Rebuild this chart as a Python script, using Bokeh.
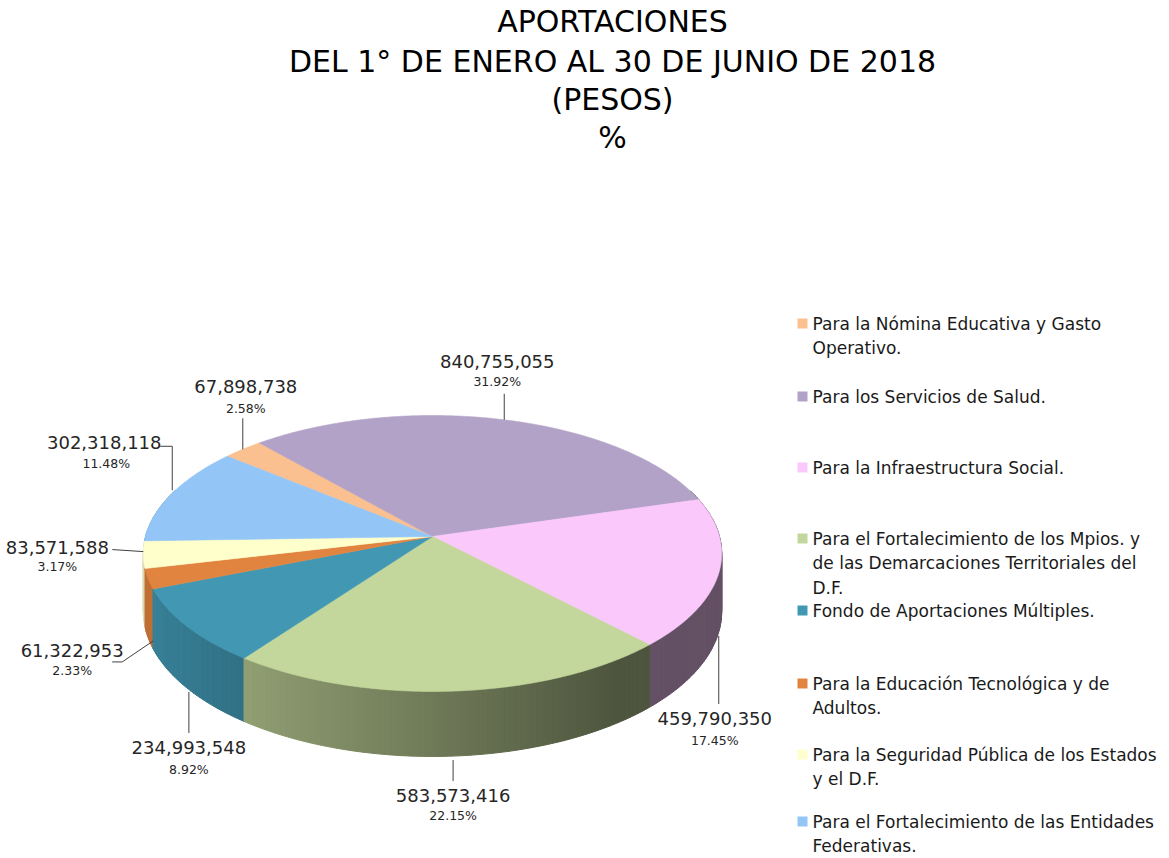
import numpy as np
from bokeh.plotting import figure
from bokeh.models import ColumnDataSource, Range1d
from bokeh.core.properties import value
from bokeh.embed import file_html
from bokeh.resources import INLINE

# ---------------- data ----------------
categories = [
    "Para la Nómina Educativa y Gasto\nOperativo.",
    "Para los Servicios de Salud.",
    "Para la Infraestructura Social.",
    "Para el Fortalecimiento de los Mpios. y\nde las Demarcaciones Territoriales del\nD.F.",
    "Fondo de Aportaciones Múltiples.",
    "Para la Educación Tecnológica y de\nAdultos.",
    "Para la Seguridad Pública de los Estados\ny el D.F.",
    "Para el Fortalecimiento de las Entidades\nFederativas.",
]
values = [67898738, 840755055, 459790350, 583573416, 234993548, 61322953, 83571588, 302318118]
colors = ["#FAC08F", "#B3A2C7", "#FAC8FA", "#C3D69B", "#4298B3", "#E0843F", "#FFFFCC", "#93C6F7"]
title_lines = ["APORTACIONES", "DEL 1° DE ENERO AL 30 DE JUNIO DE 2018", "(PESOS)", "%"]

# ---------------- layout / style ----------------
CX, CY = 432.0, 536.0      # pie centre on screen
A, B = 287.0, 135.9        # projected radii
K = 0.123                  # perspective strength
H = 57.0                   # thickness
START = 309.5              # first slice angle (deg, clockwise from 12 o'clock)
FONT = value("DejaVu Sans")

# label layout: anchor on rim ('top'/'bottom'), leader offsets, value offset, pct offset
label_layout = [
    dict(anchor="top", leader=[(0, 0), (0, -31)], val=(3, -63), pct=(3, -41)),
    dict(anchor="top", leader=[(0, 0), (0, -26)], val=(-7, -58), pct=(-7, -38)),
    dict(anchor="bottom", leader=[(0, 4), (0, 72)], val=(-4, 87), pct=(-4, 109)),
    dict(anchor="bottom", leader=[(0, 4), (0, 25)], val=(0, 39), pct=(0, 59)),
    dict(anchor="bottom", leader=[(2, 4), (2, 45)], val=(2, 60), pct=(2, 82)),
    dict(anchor="bottom", leader=[(5, 3), (-26, 24), (-36, 24)], val=(-76, 13), pct=(-76, 33)),
    dict(anchor="top", leader=[(0, -3), (-31, -5)], val=(-86, -7), pct=(-86, 12)),
    dict(anchor="top", leader=[(1, -4), (1, -48), (-11, -48)], val=(-67, -52), pct=(-65, -31)),
]


def proj(theta_deg, drop=0.0):
    t = np.radians(theta_deg)
    u = np.sin(t)
    v = -np.cos(t)
    s = 1.0 / (1.0 - K * v)
    return CX + A * u * s, CY + B * v * s + H * s * drop


def hex_rgb(h):
    h = h.lstrip("#")
    return tuple(int(h[i:i + 2], 16) for i in (0, 2, 4))


def shade(hexcol, f):
    r, g, b = hex_rgb(hexcol)
    return "#%02x%02x%02x" % tuple(int(max(0, min(255, c * f))) for c in (r, g, b))


total = float(sum(values))
fracs = [v / total for v in values]
bounds = [START]
for f in fracs:
    bounds.append(bounds[-1] + 360.0 * f)

p = figure(width=1169, height=858, x_range=Range1d(0, 1169), y_range=Range1d(858, 0),
           output_backend="svg", toolbar_location=None, min_border=0)
p.axis.visible = False
p.grid.visible = False
p.outline_line_color = None
p.background_fill_color = "white"
p.border_fill_color = "white"

# ---------------- side wall ----------------
strips = []
for i in range(len(values)):
    a0, a1 = bounds[i], bounds[i + 1]
    n = max(2, int(np.ceil((a1 - a0) / 1.0)))
    edges = np.linspace(a0, a1, n + 1)
    for j in range(n):
        t0, t1 = edges[j], edges[j + 1]
        tm = 0.5 * (t0 + t1)
        vm = -np.cos(np.radians(tm))
        if vm < -0.35:
            continue
        um = np.sin(np.radians(tm))
        x0, y0 = proj(t0)
        x1, y1 = proj(t1)
        x2, y2 = proj(t1, 1.0)
        x3, y3 = proj(t0, 1.0)
        f = float(np.clip(0.86 - (um + 0.98) * 0.295, 0.40, 0.9))
        c = shade(colors[i], f)
        strips.append((vm, [x0, x1, x2, x3], [y0, y1, y2, y3], c))
strips.sort(key=lambda s: s[0])
side_src = ColumnDataSource(dict(xs=[s[1] for s in strips], ys=[s[2] for s in strips],
                                 c=[s[3] for s in strips]))
p.patches("xs", "ys", source=side_src, fill_color="c", line_color="c", line_width=1)

# ---------------- top face ----------------
txs, tys = [], []
for i in range(len(values)):
    a0, a1 = bounds[i], bounds[i + 1]
    th = np.linspace(a0, a1, max(3, int((a1 - a0) / 0.5) + 1))
    X, Y = proj(th)
    txs.append([CX] + list(X))
    tys.append([CY] + list(Y))
top_src = ColumnDataSource(dict(xs=txs, ys=tys, c=colors))
p.patches("xs", "ys", source=top_src, fill_color="c", line_color="c", line_width=0.6)

# ---------------- data labels ----------------
lxs, lys = [], []
vx, vy, vt, px, py, pt = [], [], [], [], [], []
for i, lay in enumerate(label_layout):
    mid = 0.5 * (bounds[i] + bounds[i + 1])
    ax, ay = proj(mid, 1.0 if lay["anchor"] == "bottom" else 0.0)
    lxs.append([ax + dx for dx, dy in lay["leader"]])
    lys.append([ay + dy for dx, dy in lay["leader"]])
    vx.append(ax + lay["val"][0]); vy.append(ay + lay["val"][1])
    vt.append(f"{values[i]:,}")
    px.append(ax + lay["pct"][0]); py.append(ay + lay["pct"][1])
    pt.append(f"{100.0 * fracs[i]:.2f}%")

p.multi_line(lxs, lys, line_color="#404040", line_width=1)
p.text(vx, vy, text=vt, text_font=FONT, text_font_size="18px", text_color="#262626",
       text_align="center", text_baseline="middle")
p.text(px, py, text=pt, text_font=FONT, text_font_size="12.5px", text_color="#262626",
       text_align="center", text_baseline="middle")

# ---------------- title ----------------
p.text([612] * 4, [21, 61, 99, 137], text=title_lines, text_font=FONT, text_font_size="30px",
       text_color="black", text_align="center", text_baseline="middle")

# ---------------- legend ----------------
leg_y0 = [323, 396, 467, 538, 610, 683, 754, 821]
LINE_H = 24.5
p.rect([802] * len(colors), leg_y0, width=10, height=10, fill_color=colors, line_color=None)
gx, gy, gt = [], [], []
for i, cat in enumerate(categories):
    for k, line in enumerate(cat.split("\n")):
        gx.append(812); gy.append(leg_y0[i] + k * LINE_H); gt.append(line)
p.text(gx, gy, text=gt, text_font=FONT, text_font_size="17px", text_color="#1a1a1a",
       text_align="left", text_baseline="middle")

open("out.html", "w").write(file_html(p, INLINE))
